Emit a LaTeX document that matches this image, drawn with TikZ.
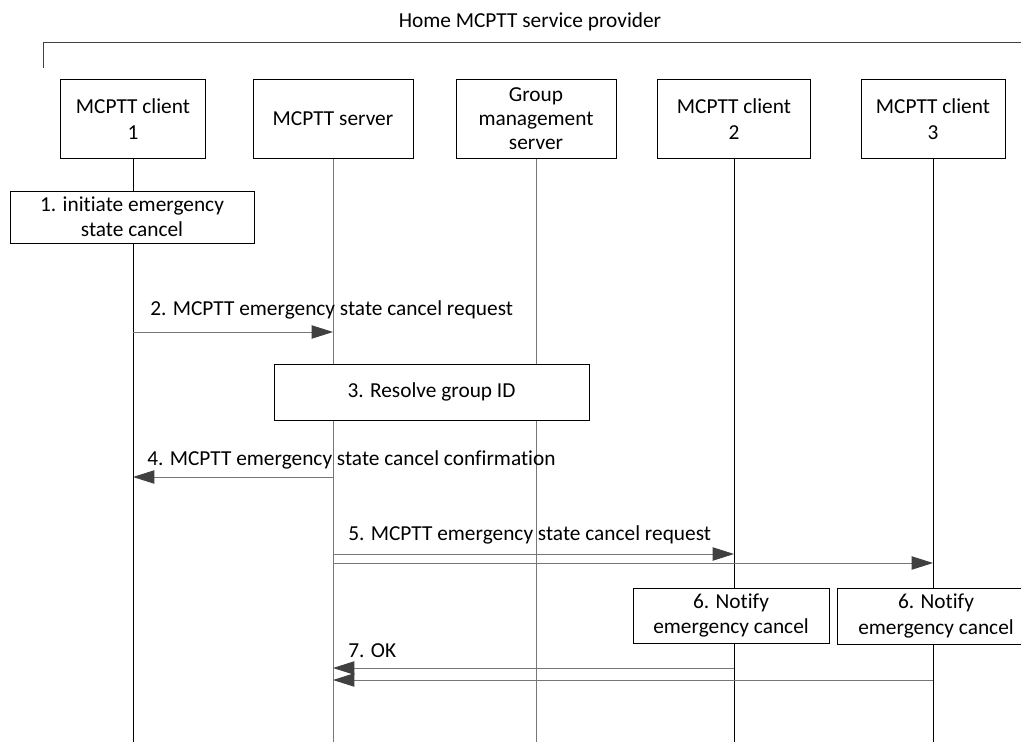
\documentclass[tikz,border=0pt]{standalone}
\usepackage{fontspec}
\setmainfont{Carlito}[Ligatures=NoCommon]
\usepackage{xcolor}
\usepackage{tikz}
\usetikzlibrary{arrows.meta,positioning,calc}

\definecolor{lifegray}{RGB}{118,118,118}
\definecolor{tipgray}{RGB}{64,64,64}

\begin{document}
\begin{tikzpicture}[x=0.75pt, y=-0.75pt,
    every node/.style={font=\fontsize{16}{19}\selectfont},
    entity/.style={draw, line width=0.75pt, align=center, inner sep=0pt,
      minimum width=#1*0.75pt, minimum height=78*0.75pt},
    stepbox/.style={draw, line width=0.75pt, fill=white, align=center, inner sep=0pt},
    msg/.style={draw=lifegray, line width=0.75pt,
      -{Triangle[length=16pt, width=10pt, color=tipgray]}},
    msglbl/.style={anchor=west, inner sep=0pt}]
  % Frame
  \useasboundingbox (0,0) rectangle (1021,742);
  \node (title) at (530,22) {Home MCPTT service provider};
  \draw[line width=0.75pt, tipgray] (43,68) -- (43,43) -- (1021,43);

  % Entities
  \node[entity=145] (c1)  at (133,119) {MCPTT client\\1};
  \node[entity=160] (srv) at (333,119) {MCPTT server};
  \node[entity=160] (gms) at (536,119) {Group\\[-1pt]management\\[-1pt]server};
  \node[entity=153] (c2)  at (734,119) {MCPTT client\\2};
  \node[entity=144] (c3)  at (933,119) {MCPTT client\\3};

  % Lifelines
  \coordinate (bot) at (0,742);
  \foreach \n/\col in {c1/black, srv/lifegray, gms/lifegray, c2/black, c3/black}
    \draw[\col, line width=0.75pt] (\n.south) -- (\n.south |- bot);

  % Rows of the messages
  \coordinate (r2) at (0,332);
  \coordinate (r4) at (0,477);
  \coordinate (r5a) at (0,554);
  \coordinate (r5b) at (0,563);
  \coordinate (r7a) at (0,668);
  \coordinate (r7b) at (0,680);

  % Steps
  \node[stepbox, minimum width=244*0.75pt, minimum height=52*0.75pt] (s1) at (132,217)
    {1. initiate emergency\\state cancel};
  \node[stepbox, minimum width=315*0.75pt, minimum height=56*0.75pt] (s3) at (431.5,392)
    {3. Resolve group ID};
  \node[stepbox, minimum width=196*0.75pt, minimum height=55*0.75pt] (s6a) at (731,615.5)
    {6. Notify\\emergency cancel};
  \node[stepbox, minimum width=198*0.75pt, minimum height=56*0.75pt] (s6b) at (936,616)
    {6. Notify\\emergency cancel};

  % Messages
  \draw[msg] (c1 |- r2) -- (srv |- r2);
  \node[msglbl] (l2) at (150,310) {2. MCPTT emergency state cancel request};
  \draw[msg] (srv |- r4) -- (c1 |- r4);
  \node[msglbl] (l4) at (147,460) {4. MCPTT emergency state cancel confirmation};
  \draw[msg] (srv |- r5a) -- (c2 |- r5a);
  \draw[msg] (srv |- r5b) -- (c3 |- r5b);
  \node[msglbl] (l5) at (348,535) {5. MCPTT emergency state cancel request};
  \draw[msg] (c2 |- r7a) -- (srv |- r7a);
  \draw[msg] (c3 |- r7b) -- (srv |- r7b);
  \node[msglbl] (l7) at (348,651) {7. OK};
\end{tikzpicture}
\end{document}
